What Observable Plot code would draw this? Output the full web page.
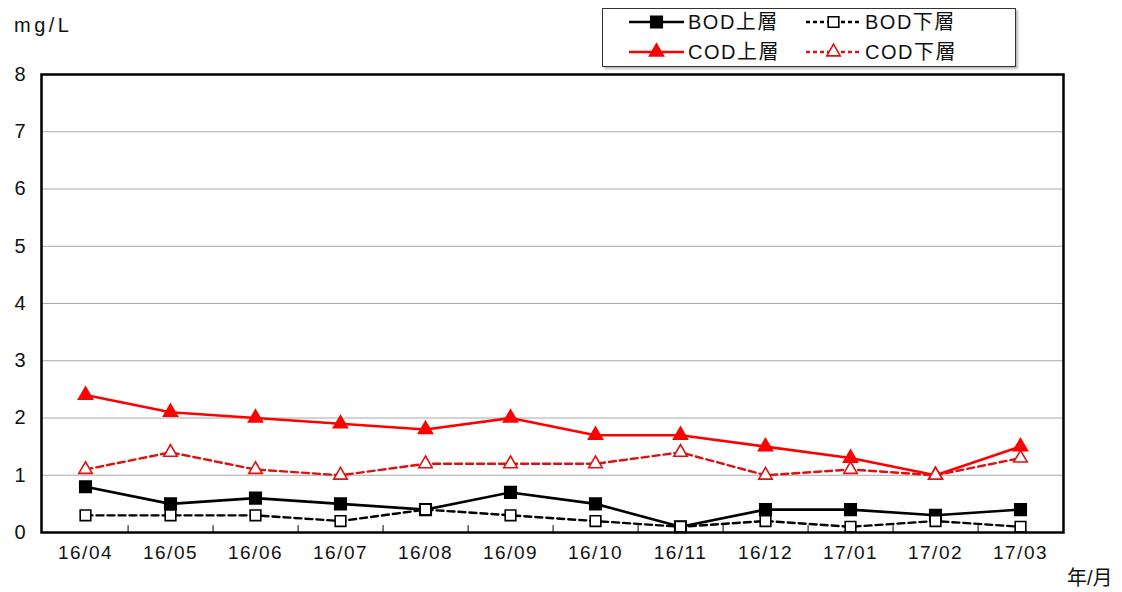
<!DOCTYPE html>
<html><head><meta charset="utf-8">
<script src="https://cdn.jsdelivr.net/npm/d3@7"></script>
<script src="https://cdn.jsdelivr.net/npm/@observablehq/plot@0.6"></script>
<style>
body{margin:0;background:#fff;font-family:"Liberation Sans","Noto Sans CJK JP",sans-serif;color:#000;}
#head{position:relative;height:68px;}
#unit{position:absolute;left:14px;top:14px;font-size:20px;letter-spacing:3.5px;color:#111;}
#legend{position:absolute;left:602px;top:8px;width:412px;height:57px;border:1.5px solid #333;box-shadow:2px 2px 2px #bbb;background:#fff;}
#legend svg{display:block;}
#chart [aria-label^="y-axis"], #chart [aria-label^="y-axis"] text{font-size:20px !important;}
#chart [aria-label^="x-axis"], #chart [aria-label^="x-axis"] text{font-size:19px !important;letter-spacing:1.5px;}
</style></head><body>
<div id="head"><div id="unit">mg/L</div><div id="legend"></div></div>
<div id="chart"></div>
<script>
const months = ["16/04","16/05","16/06","16/07","16/08","16/09","16/10","16/11","16/12","17/01","17/02","17/03"];
const bodUpper = [0.8,0.5,0.6,0.5,0.4,0.7,0.5,0.1,0.4,0.4,0.3,0.4];
const bodLower = [0.3,0.3,0.3,0.2,0.4,0.3,0.2,0.1,0.2,0.1,0.2,0.1];
const codUpper = [2.4,2.1,2.0,1.9,1.8,2.0,1.7,1.7,1.5,1.3,1.0,1.5];
const codLower = [1.1,1.4,1.1,1.0,1.2,1.2,1.2,1.4,1.0,1.1,1.0,1.3];
const seriesNames = ["BOD上層","BOD下層","COD上層","COD下層"];
const yTicks = [0,1,2,3,4,5,6,7,8];
const gridValues = [1,2,3,4,5,6,7];
const xUnit = "年/月";

const seriesValues = [bodUpper, bodLower, codUpper, codLower];
const seriesStyle = [
  {stroke:"#000", dash:null, symbol:"square", fill:"#000", r:6.5},
  {stroke:"#000", dash:"7,4", symbol:"square", fill:"#fff", r:6},
  {stroke:"#f00", dash:null, symbol:"triangle", fill:"#f00", r:5.2},
  {stroke:"#e01010", dash:"7,4", symbol:"triangle", fill:"#fff", r:5}
];
const data = seriesNames.flatMap((s, k) => months.map((m, i) => ({month: m, series: s, value: seriesValues[k][i]})));

const W = 1122, H = 524, mL = 41, mR = 59, mT = 6, mB = 60;
const bw = (W - mL - mR) / months.length;
const font = '"Liberation Sans","Noto Sans CJK JP",sans-serif';

const marks = [
  Plot.ruleY(gridValues, {stroke: "#a8a8a8", strokeWidth: 1}),
  Plot.ruleX(months.slice(0, -1), {y1: 0, y2: 0.12, dx: bw / 2, stroke: "#000", strokeWidth: 1})
];
seriesNames.forEach((s, k) => {
  const st = seriesStyle[k];
  const d = data.filter(r => r.series === s);
  marks.push(Plot.line(d, {x: "month", y: "value", stroke: st.stroke, strokeWidth: st.dash ? 2.4 : 2.6, strokeDasharray: st.dash}));
});
seriesNames.forEach((s, k) => {
  const st = seriesStyle[k];
  const d = data.filter(r => r.series === s);
  marks.push(Plot.dot(d, {x: "month", y: "value", symbol: st.symbol, fill: st.fill, stroke: st.stroke, strokeWidth: 1.6, r: st.r}));
});
marks.push(Plot.frame({stroke: "#000", strokeWidth: 2.5}));
marks.push(Plot.text([xUnit], {frameAnchor: "bottom-right", dx: 49, dy: 46, textAnchor: "end", fontSize: 20, lineAnchor: "middle"}));

const chart = Plot.plot({
  width: W, height: H,
  marginTop: mT, marginBottom: mB, marginLeft: mL, marginRight: mR,
  x: {type: "point", domain: months, padding: 0.5, label: null, tickSize: 0, tickPadding: 13},
  y: {domain: [0, 8], ticks: yTicks, label: null, tickSize: 0, tickPadding: 16},
  style: {fontFamily: font, fontSize: "20px", color: "#111", background: "#fff", overflow: "visible"},
  marks
});
document.getElementById("chart").appendChild(chart);

// legend
const lg = d3.select("#legend").append("svg").attr("width", 412).attr("height", 57);
const cols = [26, 203], rows = [13, 43];
seriesNames.forEach((s, k) => {
  const st = seriesStyle[k];
  const x0 = cols[k % 2], y0 = rows[Math.floor(k / 2)];
  lg.append("line").attr("x1", x0).attr("x2", x0 + 55).attr("y1", y0).attr("y2", y0)
    .attr("stroke", st.stroke).attr("stroke-width", 2.4).attr("stroke-dasharray", st.dash ? "4,3" : null);
  const sym = st.symbol === "square" ? d3.symbolSquare : d3.symbolTriangle;
  lg.append("path").attr("d", d3.symbol(sym, Math.PI * st.r * st.r)())
    .attr("transform", `translate(${x0 + 27.5},${y0})`)
    .attr("fill", st.fill).attr("stroke", st.stroke).attr("stroke-width", 1.6);
  lg.append("text").attr("x", x0 + 59).attr("y", y0).attr("dy", "0.36em")
    .attr("font-size", 20).attr("letter-spacing", 1.5).attr("fill", "#111").attr("font-family", font).text(s);
});
</script>
</body></html>
